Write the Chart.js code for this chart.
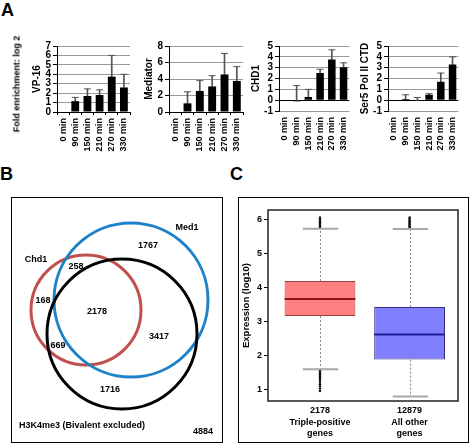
<!DOCTYPE html>
<html><head><meta charset="utf-8">
<script src="https://cdn.jsdelivr.net/npm/chart.js@4.4.1/dist/chart.umd.min.js"></script>
<style>
html,body{margin:0;padding:0;background:#fff;}
#root{position:relative;width:470px;height:444px;overflow:hidden;background:#fff;font-family:"Liberation Sans",Arial,sans-serif;}
canvas{position:absolute;}
.lbl{position:absolute;font-weight:bold;color:#000;line-height:1;white-space:nowrap;}
.frame{position:absolute;border:1px solid #000;box-sizing:border-box;}
</style></head><body>
<div id="root">
  <canvas id="a1" width="143" height="130" style="left:0px;top:30px"></canvas>
  <canvas id="a2" width="121" height="130" style="left:135px;top:30px"></canvas>
  <canvas id="a3" width="114" height="130" style="left:247px;top:30px"></canvas>
  <canvas id="a4" width="118" height="130" style="left:352px;top:30px"></canvas>
  <div class="frame" style="left:11px;top:197px;width:212px;height:246px"></div>
  <canvas id="venn" width="210" height="244" style="left:12px;top:198px"></canvas>
  <div class="frame" style="left:238px;top:197px;width:231px;height:246px"></div>
  <canvas id="boxc" width="229" height="244" style="left:239px;top:198px"></canvas>
  <div class="lbl" style="left:1px;top:1px;font-size:18px">A</div>
  <div class="lbl" style="left:0px;top:165px;font-size:18px">B</div>
  <div class="lbl" style="left:230px;top:165px;font-size:18px">C</div>
  <div class="lbl" style="left:17px;top:84px;font-size:9px;transform:translate(-50%,-50%) rotate(-90deg)">Fold enrichment: log 2</div>
</div>
<script>
// ---------- Panel A data ----------
const timeLabels = ['0 min','90 min','150 min','210 min','270 min','330 min'];
const vp16Values     = [0, 1.15, 1.7, 1.8, 3.75, 2.6];
const vp16Errors     = [0, 0.4, 0.75, 0.55, 2.25, 1.4];
const mediatorValues = [0, 1.05, 2.55, 3.1, 4.55, 3.75];
const mediatorErrors = [0, 1.4, 1.25, 1.3, 2.55, 1.75];
const chd1Values     = [-0.05, -0.1, 0.3, 2.5, 3.75, 3.05];
const chd1Errors     = [0, 1.45, 0.7, 0.35, 0.9, 0.4];
const ser5Values     = [0, 0.1, -0.05, 0.5, 1.7, 3.3];
const ser5Errors     = [0, 0.4, 0.3, 0.1, 0.8, 0.7];
const vp16Ticks      = [0,1,2,3,4,5,6,7];
const mediatorTicks  = [0,2,4,6,8];
const signedTicks    = [-1,0,1,2,3,4,5];

// ---------- Panel B data ----------
const vennSetNames  = ['Chd1','Med1','H3K4me3 (Bivalent excluded)'];
const vennCounts    = ['1767','258','168','2178','3417','669','1716','4884'];
// layout (chart units of the Venn canvas)
const vennCircleX   = [74, 119, 110];
const vennCircleY   = [112, 102, 136];
const vennCircleR   = [55, 77, 75];
const vennCountX    = [136, 64, 31, 85, 147, 46, 98, 191];
const vennCountY    = [48, 69, 103, 114, 139, 148, 192, 234];
const vennNameX     = [24, 175, 7];
const vennNameY     = [62, 30, 228];

// ---------- Panel C data ----------
const boxGroups   = [['2178','Triple-positive','genes'], ['12879','All other','genes']];
const boxPos      = [1, 2];
const boxQ1       = [3.16, 1.88];
const boxQ3       = [4.19, 3.42];
const boxMedian   = [3.66, 2.62];
const boxWhiskLo  = [1.6, 0.8];
const boxWhiskHi  = [5.72, 5.71];
const outliersTriple = [5.75,5.78,5.81,5.84,5.87,5.9,5.93,5.96,6.0,6.05,1.56,1.52,1.48,1.44,1.4,1.36,1.32,1.27,1.22,1.16,1.1,1.03,0.96];
const outliersOther  = [5.74,5.77,5.8,5.83,5.86,5.89,5.92,5.95,5.98,6.02,6.05];
const exprTicks   = [1,2,3,4,5,6];

const FONT = '"Liberation Sans", Arial, sans-serif';
Chart.defaults.font.family = FONT;
Chart.defaults.font.weight = 'bold';
Chart.defaults.color = '#000';
Chart.defaults.animation = false;

// create chart, measure its plot area, rebuild with corrected padding
function buildFitted(canvas, makeConfig, L, T, R, B){
  const pad = {left:0, top:0, right:0, bottom:0};
  let chart;
  for (let k=0;k<5;k++){
    chart = new Chart(canvas, makeConfig({...pad}));
    const ca = chart.chartArea;
    const dl = L-ca.left, dt = T-ca.top, dr = ca.right-R, db = ca.bottom-B;
    if (Math.abs(dl)+Math.abs(dt)+Math.abs(dr)+Math.abs(db) < 0.3 || k===4) break;
    pad.left += dl; pad.top += dt; pad.right += dr; pad.bottom += db;
    chart.destroy();
  }
  return chart;
}

// writes the value-axis tick labels of the small bar charts (taken from the scale's own ticks)
const yTickLabels = {
  id:'yTickLabels',
  afterDraw(chart){
    const y = chart.scales.y, ctx = chart.ctx;
    const tl = 4, padding = 2;
    ctx.save();
    ctx.font = 'bold 10px ' + FONT;
    ctx.fillStyle = '#000';
    ctx.textAlign = 'right';
    ctx.textBaseline = 'middle';
    y.ticks.forEach(t => {
      const s = (t.label === undefined || t.label === null || t.label === '') ? String(t.value) : String(t.label);
      ctx.fillText(s, y.right - tl - padding, y.getPixelForValue(t.value));
    });
    ctx.restore();
  }
};

function makeBar(id, values, errors, title, yMin, yMax, yTicks, area){
  const xMarks = yMin === 0;
  const cfg = (pad) => ({
    type:'bar',
    data:{labels: timeLabels, datasets:[
      {type:'bar', data: values, backgroundColor:'#000', borderWidth:0,
       categoryPercentage:1, barPercentage:0.64, grouped:false, order:0},
      {type:'bar', data: values.map((v,i)=> errors[i] ? [v, v+errors[i]] : null),
       backgroundColor:'#555', borderWidth:0, barThickness:1, grouped:false, order:1},
      {type:'line', data: values.map((v,i)=> errors[i] ? v+errors[i] : null),
       showLine:false, pointStyle:'line', pointRadius:3.5, borderColor:'#555',
       pointBorderColor:'#555', pointBorderWidth:1, order:2}
    ]},
    options:{
      responsive:false, animation:false, devicePixelRatio:1, events:[],
      layout:{padding:pad, autoPadding:false},
      plugins:{legend:{display:false}, tooltip:{enabled:false}},
      scales:{
        x:{grid:{display:xMarks, drawOnChartArea:false, offset:true, drawTicks:xMarks, tickLength:3, color:'#000'},
           border:{display:false},
           ticks:{font:{size:9, weight:'bold'}, minRotation:90, maxRotation:90, padding: xMarks ? 3 : 6, autoSkip:false}},
        y:{min:yMin, max:yMax,
           afterBuildTicks:(s)=>{ s.ticks = yTicks.map(v=>({value:v})); },
           grid:{color:(c)=> (c.tick && c.tick.value === 0) ? '#000' : '#9a9a9a', tickColor:'#000', tickLength:4, drawTicks:true},
           border:{color:'#000', width:1},
           ticks:{font:{size:10, weight:'bold'}, padding:2, autoSkip:false, color:'rgba(0,0,0,0)'},
           title:{display:true, text:title, font:{size:10, weight:'bold'}, padding:{top:0,bottom:0}}}
      }
    },
    plugins:[yTickLabels]
  });
  return buildFitted(document.getElementById(id), cfg, ...area);
}

makeBar('a1', vp16Values, vp16Errors, 'VP-16', 0, 7, vp16Ticks, [57,16,130,82]);
makeBar('a2', mediatorValues, mediatorErrors, 'Mediator', 0, 8, mediatorTicks, [34,16,108,82]);
makeBar('a3', chd1Values, chd1Errors, 'CHD1', -1, 5, signedTicks, [32,16,101,81]);
makeBar('a4', ser5Values, ser5Errors, 'Ser5 Pol II CTD', -1, 5, signedTicks, [36,16,105,81]);

// ---------- Venn ----------
const vennText = {
  id:'vennText',
  afterDatasetsDraw(chart){
    const {ctx, scales:{x,y}} = chart;
    ctx.save();
    ctx.font = 'bold 9px ' + FONT; ctx.fillStyle = '#000'; ctx.textBaseline = 'middle';
    ctx.textAlign = 'center';
    vennCounts.forEach((t,i)=> ctx.fillText(t, x.getPixelForValue(vennCountX[i]), y.getPixelForValue(vennCountY[i])));
    vennSetNames.forEach((t,i)=>{
      ctx.textAlign = i===2 ? 'left' : 'center';
      ctx.fillText(t, x.getPixelForValue(vennNameX[i]), y.getPixelForValue(vennNameY[i]));
    });
    ctx.restore();
  }
};
new Chart(document.getElementById('venn'), {
  type:'bubble',
  data:{datasets:[{
    data: vennCircleX.map((cx,i)=>({x:cx, y:vennCircleY[i], r:vennCircleR[i]})),
    backgroundColor:'rgba(0,0,0,0)',
    borderColor:['#c0504d','#1e82c8','#000000'],
    borderWidth:3, clip:false
  }]},
  options:{
    responsive:false, animation:false, devicePixelRatio:1, events:[],
    layout:{padding:0, autoPadding:false},
    plugins:{legend:{display:false}, tooltip:{enabled:false}},
    scales:{
      x:{type:'linear', min:0, max:210, display:false},
      y:{type:'linear', min:0, max:244, reverse:true, display:false}
    }
  },
  plugins:[vennText]
});

// ---------- Box plot ----------
const boxExtras = {
  id:'boxExtras',
  afterDatasetsDraw(chart){
    const {ctx, chartArea:ca, scales:{x,y}} = chart;
    const meta = chart.getDatasetMeta(1);
    ctx.save();
    const medColors = ['#8b1515','#1c1c9c'];
    boxPos.forEach((p,i)=>{
      const el = meta.data[i];
      const cx = Math.round(x.getPixelForValue(p))+0.5;
      const half = el.width/2;
      ctx.setLineDash([2,2]); ctx.strokeStyle = '#8a8a8a'; ctx.lineWidth = 1;
      ctx.beginPath();
      ctx.moveTo(cx, y.getPixelForValue(boxQ3[i])); ctx.lineTo(cx, y.getPixelForValue(boxWhiskHi[i]));
      ctx.moveTo(cx, y.getPixelForValue(boxQ1[i])); ctx.lineTo(cx, y.getPixelForValue(boxWhiskLo[i]));
      ctx.stroke();
      ctx.setLineDash([]); ctx.strokeStyle = '#a8a8a8'; ctx.lineWidth = 2;
      ctx.beginPath();
      [boxWhiskHi[i], boxWhiskLo[i]].forEach(w=>{
        const yy = y.getPixelForValue(w);
        ctx.moveTo(cx-half*0.5, yy); ctx.lineTo(cx+half*0.5, yy);
      });
      ctx.stroke();
      ctx.strokeStyle = medColors[i]; ctx.lineWidth = 2;
      ctx.beginPath();
      const ym = y.getPixelForValue(boxMedian[i]);
      ctx.moveTo(el.x-half, ym); ctx.lineTo(el.x+half, ym); ctx.stroke();
    });
    ctx.strokeStyle = '#222'; ctx.lineWidth = 1.5;
    ctx.strokeRect(ca.left, ca.top, ca.right-ca.left, ca.bottom-ca.top);
    ctx.restore();
  }
};
const boxCfg = (pad) => ({
  type:'bar',
  data:{datasets:[
    {type:'line', order:0, showLine:false,
     data: outliersTriple.map(v=>({x:boxPos[0], y:v})).concat(outliersOther.map(v=>({x:boxPos[1], y:v}))),
     pointRadius:1.2, pointBackgroundColor:'#111', pointBorderColor:'#111', pointBorderWidth:0},
    {type:'bar', order:1,
     data: boxPos.map((p,i)=>({x:p, y:[boxQ1[i], boxQ3[i]]})),
     backgroundColor:['#ff8080','#8080ff'], borderColor:['#a04040','#303080'],
     borderWidth:1, borderSkipped:false, categoryPercentage:1, barPercentage:0.79}
  ]},
  options:{
    responsive:false, animation:false, devicePixelRatio:1, events:[],
    layout:{padding:pad, autoPadding:false},
    plugins:{legend:{display:false}, tooltip:{enabled:false}},
    scales:{
      x:{type:'linear', min:0.42, max:2.54, offset:false,
         afterBuildTicks:(s)=>{ s.ticks = boxPos.map(v=>({value:v})); },
         grid:{display:false, drawTicks:false, offset:false}, border:{display:false},
         ticks:{font:{size:9, weight:'bold', lineHeight:1.28}, padding:4, maxRotation:0,
                callback:(v)=> boxGroups[boxPos.indexOf(v)] || ''}},
      y:{min:0.665, max:6.27,
         afterBuildTicks:(s)=>{ s.ticks = exprTicks.map(v=>({value:v})); },
         grid:{drawOnChartArea:false, drawTicks:true, tickLength:4, tickColor:'#000'},
         border:{display:false},
         ticks:{font:{size:9, weight:'bold'}, padding:2},
         title:{display:true, text:'Expression (log10)', font:{size:9.5, weight:'bold'}, padding:{top:0, bottom:3}}}
    }
  },
  plugins:[boxExtras]
});
buildFitted(document.getElementById('boxc'), boxCfg, 29, 12, 219, 203);
</script>
</body></html>
